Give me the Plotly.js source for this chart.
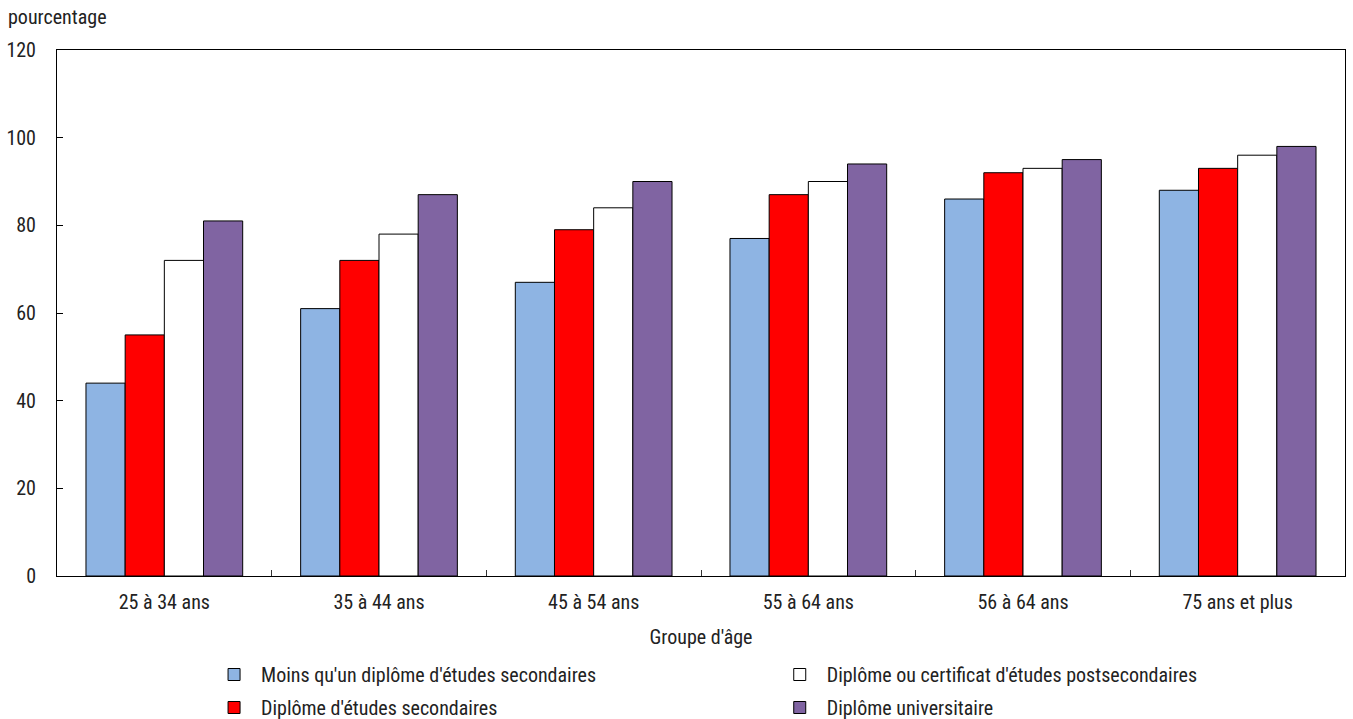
<!DOCTYPE html>
<html>
<head>
<meta charset="utf-8">
<script src="https://cdn.plot.ly/plotly-3.0.1.min.js"></script>
<style>html,body{margin:0;padding:0;background:#fff;}#chart{width:1353px;height:719px;}</style>
</head>
<body>
<div id="chart"></div>
<script>
const categories = ["25 à 34 ans", "35 à 44 ans", "45 à 54 ans", "55 à 64 ans", "56 à 64 ans", "75 ans et plus"];
const seriesNames = ["Moins qu'un diplôme d'études secondaires", "Diplôme d'études secondaires", "Diplôme ou certificat d'études postsecondaires", "Diplôme universitaire"];
const moinsSecondaire = [44, 61, 67, 77, 86, 88];
const secondaire = [55, 72, 79, 87, 92, 93];
const postsecondaire = [72, 78, 84, 90, 93, 96];
const universitaire = [81, 87, 90, 94, 95, 98];
const yTicks = [0, 20, 40, 60, 80, 100, 120];

const FONT = "'Roboto Condensed', 'Liberation Sans Narrow', 'Arial Narrow', Arial, sans-serif";
const TXT = "#222222";
const colors = ["#8EB4E3", "#FF0000", "#FFFFFF", "#8064A2"];
const values = [moinsSecondaire, secondaire, postsecondaire, universitaire];
const legends = ["legend", "legend", "legend2", "legend2"];

const traces = values.map((v, i) => ({
  type: "bar",
  x: categories,
  y: v,
  name: seriesNames[i],
  legend: legends[i],
  legendgroup: "g" + i,
  marker: {color: colors[i], line: {color: "#000000", width: 1}},
  hoverinfo: "x+y+name"
}));

const legendCommon = {
  orientation: "v", yref: "container", y: 0.089, yanchor: "top", xanchor: "left",
  font: {family: FONT, size: 20, color: TXT},
  tracegroupgap: 4, itemwidth: 44, bgcolor: "rgba(0,0,0,0)"
};

const layout = {
  width: 1353, height: 719,
  margin: {l: 57, r: 8, t: 50, b: 143, autoexpand: false},
  paper_bgcolor: "#ffffff", plot_bgcolor: "#ffffff",
  font: {family: FONT, size: 20, color: TXT},
  barmode: "group",
  bargap: 0.27,
  bargroupgap: 0,
  showlegend: true,
  xaxis: {
    type: "category",
    showline: true, linecolor: "#000000", linewidth: 1, mirror: true,
    ticks: "inside", tickson: "boundaries", ticklen: 6, tickcolor: "#333333",
    showgrid: false, zeroline: false,
    tickfont: {family: FONT, size: 20, color: TXT},
    ticklabelstandoff: 8,
    title: {text: "Groupe d'âge", font: {family: FONT, size: 20, color: TXT}, standoff: 16}
  },
  yaxis: {
    range: [0, 120],
    tickvals: yTicks,
    showline: true, linecolor: "#000000", linewidth: 1, mirror: true,
    ticks: "inside", ticklen: 6, tickcolor: "#000000",
    showgrid: false, zeroline: false,
    tickfont: {family: FONT, size: 20, color: TXT},
    ticklabelstandoff: 16
  },
  legend: Object.assign({}, legendCommon, {x: 0.1165}),
  legend2: Object.assign({}, legendCommon, {x: 0.5557}),
  annotations: [{
    text: "pourcentage", xref: "paper", yref: "paper",
    x: -0.0395, y: 1.0627, xanchor: "left", yanchor: "middle",
    showarrow: false, font: {family: FONT, size: 20, color: TXT}
  }]
};

Plotly.newPlot("chart", traces, layout, {displayModeBar: false, responsive: false});
</script>
</body>
</html>
